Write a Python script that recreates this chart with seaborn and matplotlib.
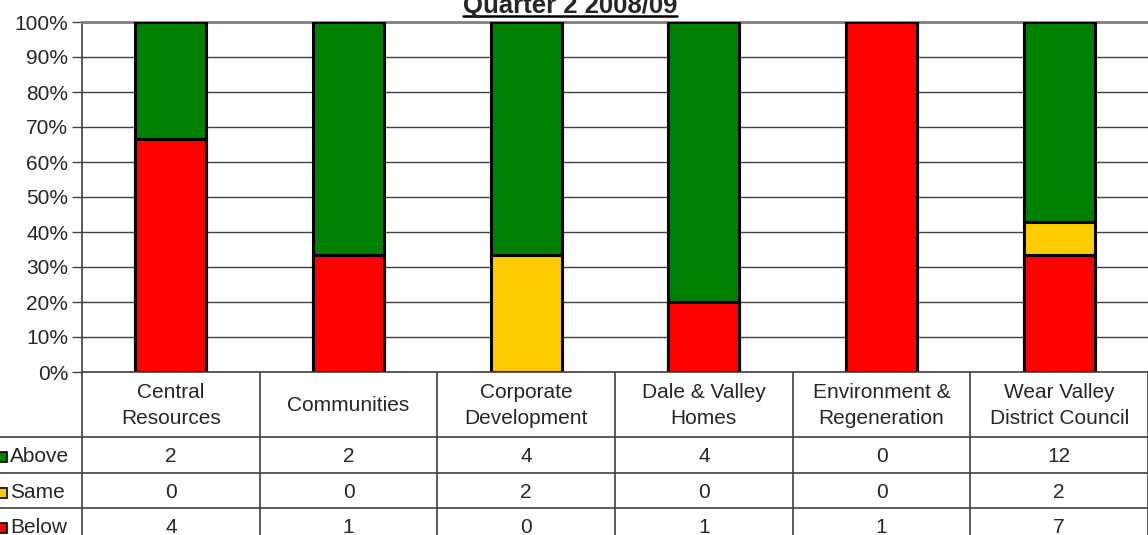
import matplotlib
matplotlib.use("Agg")
import matplotlib.pyplot as plt
import seaborn as sns
import pandas as pd
import numpy as np
from matplotlib.patches import Rectangle
from matplotlib.lines import Line2D

categories = ["Central\nResources", "Communities", "Corporate\nDevelopment",
              "Dale & Valley\nHomes", "Environment &\nRegeneration",
              "Wear Valley\nDistrict Council"]
above = [2, 2, 4, 4, 0, 12]
same = [0, 0, 2, 0, 0, 2]
below = [4, 1, 0, 1, 1, 7]
series_names = ["Above", "Same", "Below"]
series_colors = {"Above": "#008000", "Same": "#FFCC00", "Below": "#FF0000"}
title = "Quarter 2 2008/09"

sns.set_style("white")
plt.rcParams["font.family"] = ["Liberation Sans", "DejaVu Sans"]

W, H = 1148, 535
fig = plt.figure(figsize=(W / 100, H / 100), dpi=100)
FS = 15

left_px, top_px, bottom_px = 82, 22, 372
ax = fig.add_axes([left_px / W, 1 - bottom_px / H, (W - left_px) / W, (bottom_px - top_px) / H])

df = pd.DataFrame({"cat": categories, "Above": above, "Same": same, "Below": below})
tot = df[series_names].sum(axis=1)
df["p_below"] = df["Below"] / tot * 100
df["p_same"] = df["p_below"] + df["Same"] / tot * 100
df["p_above"] = df["p_same"] + df["Above"] / tot * 100

for col, name in [("p_above", "Above"), ("p_same", "Same"), ("p_below", "Below")]:
    sns.barplot(data=df, x="cat", y=col, color=series_colors[name], width=0.4,
                edgecolor="black", linewidth=2.2, saturation=1, ax=ax, zorder=3)

ax.set_ylim(0, 100)
ax.set_xlim(-0.5, 5.5)
ax.set_yticks(np.arange(0, 101, 10))
ax.set_yticklabels([f"{v}%" for v in range(0, 101, 10)], fontsize=FS)
ax.set_xticks([])
ax.set_xlabel("")
ax.set_ylabel("")
ax.grid(axis="y", color="#404040", linewidth=1, zorder=0)
ax.tick_params(axis="y", length=7, width=1, color="#404040", pad=3, left=True)
for s in ["right", "bottom"]:
    ax.spines[s].set_visible(False)
ax.spines["top"].set_color("#808080")
ax.spines["top"].set_linewidth(2)
ax.spines["left"].set_color("#404040")
ax.spines["left"].set_linewidth(1.2)
ax.axhline(0, color="#404040", linewidth=1.2, zorder=4, clip_on=False)

# data table
tax = fig.add_axes([0, 0, 1, (H - bottom_px) / H])
unit = (W - left_px) / 6
tax.set_xlim(-0.5 - left_px / unit, 5.5)
tax.set_ylim(H - bottom_px, 0)
tax.axis("off")
x0 = -0.5 - left_px / unit
header_h = 65
row_edges = [header_h, header_h + 36, header_h + 71, header_h + 106]
lc = "#404040"
for i in range(7):
    xb = -0.5 + i
    tax.add_line(Line2D([xb, xb], [0, 200], color=lc, linewidth=1.2))
for y in row_edges:
    tax.add_line(Line2D([x0, 5.5], [y, y], color=lc, linewidth=1.2))
for i, c in enumerate(categories):
    tax.text(i, header_h / 2 + 1, c, ha="center", va="center", fontsize=FS, linespacing=1.4)
vals = {"Above": above, "Same": same, "Below": below}
for r, name in enumerate(series_names):
    yc = (row_edges[r] + row_edges[r + 1]) / 2 + 2
    for i, v in enumerate(vals[name]):
        tax.text(i, yc, str(v), ha="center", va="center", fontsize=FS)
    tax.text(x0 + 10 / unit, yc, name, ha="left", va="center", fontsize=FS)
    tax.add_patch(Rectangle((x0 - 3 / unit, yc - 5), 10 / unit, 10,
                            facecolor=series_colors[name], edgecolor="black", linewidth=1.2))

# title (cut off at top, as in the reference)
t = fig.text(570 / W, 1 - 13 / H, title, ha="center", va="baseline",
             fontsize=18.5, fontweight="bold")
fig.canvas.draw()
bb = t.get_window_extent().transformed(fig.transFigure.inverted())
fig.add_artist(Line2D([bb.x0, bb.x1], [1 - 16 / H, 1 - 16 / H], color="black",
                      linewidth=1.8, transform=fig.transFigure))

fig.savefig("out.png", dpi=100)
